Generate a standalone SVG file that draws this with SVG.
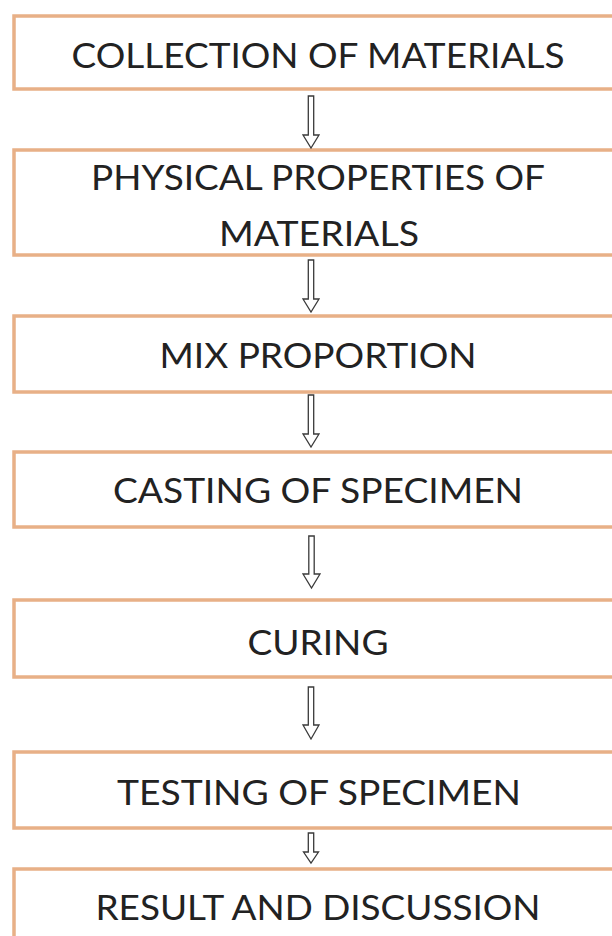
<svg xmlns="http://www.w3.org/2000/svg" width="612" height="936" viewBox="0 0 612 936">
<style>
.box{fill:#ffffff;stroke:#E8B087;stroke-width:3.5}
.lbl{font-family:Lato,"Liberation Sans",Arial,sans-serif;font-size:35px;fill:#222222;text-anchor:middle}
.arr{fill:#ffffff;stroke:#3a3a3a;stroke-width:1.3;stroke-linejoin:miter}
</style>
<rect width="612" height="936" fill="#ffffff"/>
<g id="n1"><rect class="box" x="14" y="16" width="620" height="73"/><text class="lbl" x="318" y="68" textLength="493" lengthAdjust="spacingAndGlyphs">COLLECTION OF MATERIALS</text></g>
<g id="n2"><rect class="box" x="14" y="150" width="620" height="105"/><text class="lbl" x="318" y="190" textLength="454" lengthAdjust="spacingAndGlyphs">PHYSICAL PROPERTIES OF</text><text class="lbl" x="319" y="246" textLength="200" lengthAdjust="spacingAndGlyphs">MATERIALS</text></g>
<g id="n3"><rect class="box" x="14" y="316" width="620" height="76"/><text class="lbl" x="318" y="368" textLength="317" lengthAdjust="spacingAndGlyphs">MIX PROPORTION</text></g>
<g id="n4"><rect class="box" x="14" y="452" width="620" height="75"/><text class="lbl" x="318" y="503" textLength="410" lengthAdjust="spacingAndGlyphs">CASTING OF SPECIMEN</text></g>
<g id="n5"><rect class="box" x="14" y="600" width="620" height="77"/><text class="lbl" x="318" y="655" textLength="141" lengthAdjust="spacingAndGlyphs">CURING</text></g>
<g id="n6"><rect class="box" x="14" y="752" width="620" height="76"/><text class="lbl" x="319" y="805" textLength="404" lengthAdjust="spacingAndGlyphs">TESTING OF SPECIMEN</text></g>
<g id="n7"><rect class="box" x="14" y="869" width="620" height="90"/><text class="lbl" x="318" y="920" textLength="445" lengthAdjust="spacingAndGlyphs">RESULT AND DISCUSSION</text></g>
<g id="connectors">
<path class="arr" d="M308.3,96 H313.7 V135 H319 L311,148 L303,135 H308.3 Z"/>
<path class="arr" d="M308.3,260 H313.7 V299 H319 L311,312 L303,299 H308.3 Z"/>
<path class="arr" d="M308.3,395 H313.7 V434 H319 L311,447 L303,434 H308.3 Z"/>
<path class="arr" d="M308.8,536 H314.2 V574 H320 L311.5,588 L303,574 H308.8 Z"/>
<path class="arr" d="M308.3,687 H313.7 V725 H319 L311,739 L303,725 H308.3 Z"/>
<path class="arr" d="M308.3,833 H313.7 V852 H318.5 L311,863 L303.5,852 H308.3 Z"/>
</g>
</svg>
